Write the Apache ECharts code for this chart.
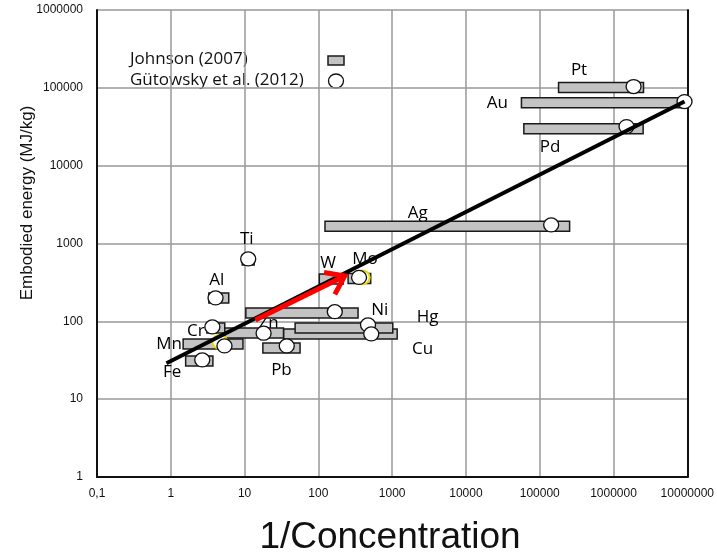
<!DOCTYPE html>
<html>
<head>
<meta charset="utf-8">
<script src="https://cdn.jsdelivr.net/npm/echarts@6/dist/echarts.min.js"></script>
<style>html,body{margin:0;padding:0;background:#fff;}#c{width:717px;height:559px;}</style>
</head>
<body>
<div id="c"></div>
<script>
// ---- data ----
const xTickLabels = ['0,1','1','10','100','1000','10000','100000','1000000','10000000'];
const yTickLabels = ['1','10','100','1000','10000','100000','1000000'];

// Johnson (2007): [metal, 1/conc min, 1/conc max, embodied energy]
const johnsonMetals = ['Pt','Au','Pd','Ag','Ti','Al','Cr','Mn','Fe','Pb','Ni','Cu','Hg','Zn','W','Mo'];
const johnsonMin    = [180000, 56500, 60900, 123, 9.3, 3.28, 3.08, 1.47, 1.59, 17.7, 10.4, 33.7, 48.4, 5.39, 103, 253];
const johnsonMax    = [2550000, 8730000, 2520000, 254000, 13.5, 6.1, 5.39, 9.51, 3.72, 56.5, 345, 1170, 1020, 33.7, 217, 512];
const johnsonEnergy = [101000, 64100, 29700, 1660, 615, 200, 82.2, 51.3, 31.0, 45.5, 128, 68.9, 82.2, 71.0, 351, 356];

// Gütowsky et al. (2012): [metal, 1/conc, embodied energy]
const gutMetals = ['Pt','Au','Pd','Ag','Ti','Al','Cr','Mn','Fe','Zn','Pb','Ni','Hg','Cu','Mo'];
const gutConc   = [1870000, 9170000, 1500000, 143000, 11.2, 4.04, 3.66, 5.34, 2.67, 18.1, 37.3, 167, 471, 521, 356];
const gutEnergy = [104000, 66700, 31800, 1730, 634, 200, 84.7, 48.3, 31.9, 70.3, 48.3, 133, 89.9, 68.9, 367];

// partly hidden extra points (yellow)
const hiddenConc   = [393, 4.62];
const hiddenEnergy = [367, 54.4];

// trend line and arrow
const trendConc   = [0.873, 9170000];
const trendEnergy = [28.9, 66700];
const arrowFrom = [14.0, 104];
const arrowTo   = [228, 383];

// metal name labels: [name, x, y]
const labelNames = ['Pt','Au','Pd','Ag','Ti','Al','Cr','Mn','Fe','Zn','Pb','W','Mo','Ni','Hg','Cu'];
const labelX     = [341000, 26600, 138000, 2220, 10.7, 4.21, 2.19, 0.95, 1.04, 21.1, 31.6, 136, 428, 681, 3020, 2590];
const labelY     = [170000, 64100, 17500, 2470, 1150, 341, 75.3, 51.3, 22.4, 95.3, 23.7, 563, 634, 140, 114, 44.2];

// ---- chart ----
const chart = echarts.init(document.getElementById('c'), null, {renderer:'canvas'});
const TXT = '"Open Sans", "Noto Sans", sans-serif';
const ARIAL = '"Liberation Sans", Arial, sans-serif';

const barData = johnsonMetals.map((m,i)=>[johnsonMin[i], johnsonMax[i], johnsonEnergy[i], m]);
const gutData = gutMetals.map((m,i)=>[gutConc[i], gutEnergy[i], m]);
const hidData = hiddenConc.map((c,i)=>[c, hiddenEnergy[i]]);
const trendData = trendConc.map((c,i)=>[c, trendEnergy[i]]);
const labelData = labelNames.map((n,i)=>[labelX[i], labelY[i], n]);

const option = {
  backgroundColor:'#fff',
  animation:false,
  grid:{left:97, top:10, right:26, bottom:82},
  xAxis:{
    type:'log', logBase:10, min:0.1, max:10000000,
    axisLine:{show:true, onZero:false, lineStyle:{color:'#111', width:2}},
    axisTick:{show:false},
    minorTick:{show:false},
    splitLine:{show:true, lineStyle:{color:'#999', width:1.5}},
    axisLabel:{color:'#111', fontSize:12, fontFamily:ARIAL, margin:11,
      formatter:v=>xTickLabels[Math.round(Math.log10(v))+1]}
  },
  yAxis:[{
    type:'log', logBase:10, min:1, max:1000000,
    axisLine:{show:true, onZero:false, lineStyle:{color:'#111', width:2}},
    axisTick:{show:false},
    splitLine:{show:true, lineStyle:{color:'#999', width:1.5}},
    axisLabel:{color:'#111', fontSize:12, fontFamily:ARIAL, margin:14,
      formatter:v=>yTickLabels[Math.round(Math.log10(v))]}
  },{
    type:'log', logBase:10, min:1, max:1000000, position:'right',
    axisLine:{show:true, onZero:false, lineStyle:{color:'#111', width:2}},
    axisTick:{show:false}, axisLabel:{show:false}, splitLine:{show:false}
  }],
  series:[
    { // labels (drawn first so bars may cover)
      type:'scatter', data:labelData, symbolSize:0, z:1, silent:true,
      itemStyle:{opacity:1},
      label:{show:true, position:'inside', formatter:p=>p.data[2],
        color:'#000', opacity:1, fontSize:17, fontFamily:TXT}
    },
    { // Johnson bars
      type:'custom', z:2, data:barData, encode:{x:[0,1], y:2},
      renderItem:(params, api)=>{
        const p1 = api.coord([api.value(0), api.value(2)]);
        const p2 = api.coord([api.value(1), api.value(2)]);
        return {type:'rect', shape:{x:p1[0], y:p1[1]-5, width:p2[0]-p1[0], height:10},
          style:{fill:'#c3c3c3', stroke:'#1a1a1a', lineWidth:1.5}};
      }
    },
    { // hidden yellow points
      type:'scatter', z:3, data:hidData, symbol:'circle', symbolSize:[15,14],
      itemStyle:{color:'#ffffff', borderColor:'#e6d800', borderWidth:2, opacity:1}
    },
    { // Gütowsky circles
      type:'scatter', z:4, data:gutData, symbol:'circle', symbolSize:[15,14],
      itemStyle:{color:'#ffffff', borderColor:'#111', borderWidth:1.3, opacity:1}
    },
    { // trend line
      type:'line', z:5, data:trendData, symbol:'none',
      lineStyle:{color:'#000', width:4}
    },
    { // red arrow
      type:'custom', z:6, data:[[arrowFrom[0], arrowFrom[1], arrowTo[0], arrowTo[1]]],
      encode:{x:[0,2], y:[1,3]},
      renderItem:(params, api)=>{
        const a = api.coord([api.value(0), api.value(1)]);
        const b = api.coord([api.value(2), api.value(3)]);
        const ang = Math.atan2(b[1]-a[1], b[0]-a[0]);
        const L = 21, spread = 0.62;
        const h1 = [b[0]-L*Math.cos(ang-spread), b[1]-L*Math.sin(ang-spread)];
        const h2 = [b[0]-L*Math.cos(ang+spread), b[1]-L*Math.sin(ang+spread)];
        return {type:'group', children:[
          {type:'polyline', shape:{points:[a,b]}, style:{stroke:'#ff0000', lineWidth:5, fill:null}},
          {type:'polyline', shape:{points:[h1,b,h2]}, style:{stroke:'#ff0000', lineWidth:5, fill:null, lineJoin:'miter'}}
        ]};
      }
    }
  ],
  graphic:[
    {type:'text', left:130, top:51, style:{text:'Johnson (2007)', fill:'#111', font:'17px '+TXT}},
    {type:'text', left:130, top:72, style:{text:'Gütowsky et al. (2012)', fill:'#111', font:'17px '+TXT}},
    {type:'rect', shape:{x:328, y:56, width:16, height:9}, style:{fill:'#c3c3c3', stroke:'#1a1a1a', lineWidth:1.5}},
    {type:'ellipse', shape:{cx:336, cy:81, rx:7.5, ry:7}, style:{fill:'#fff', stroke:'#111', lineWidth:1.3}},
    {type:'text', x:27, y:203, rotation:Math.PI/2,
      style:{text:'Embodied energy (MJ/kg)', fill:'#111', font:'17px '+ARIAL, align:'center', verticalAlign:'middle'}},
    {type:'text', x:390, y:538,
      style:{text:'1/Concentration', fill:'#111', font:'37px '+ARIAL, align:'center', verticalAlign:'middle'}}
  ]
};
chart.setOption(option);
</script>
</body>
</html>
